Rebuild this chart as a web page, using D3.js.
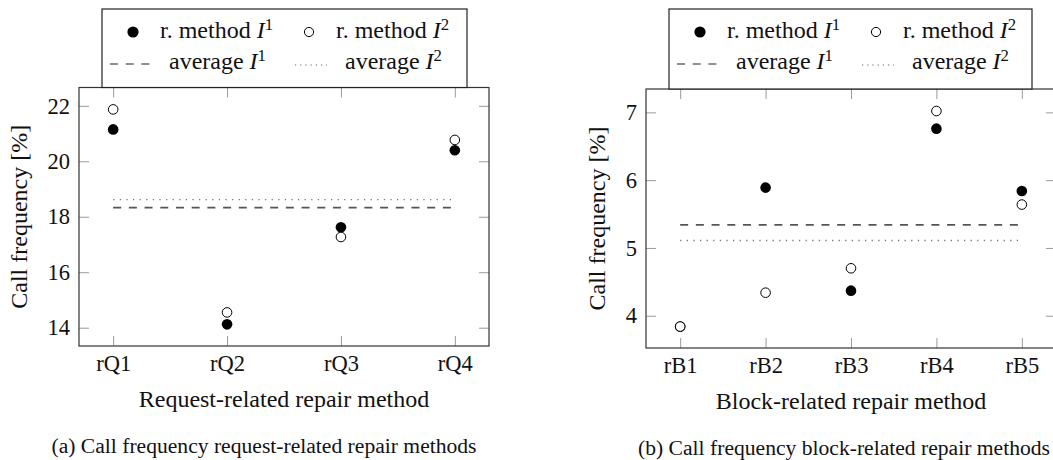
<!DOCTYPE html>
<html>
<head>
<meta charset="utf-8">
<title>Call frequency of repair methods</title>
<script src="https://cdn.jsdelivr.net/npm/d3@7"></script>
<style>
  body { margin: 0; background: #fff; }
  .tick line { stroke: #9a9a9a; stroke-width: 1; }
  .tick text { fill: #111; }
  .domain { display: none; }
</style>
</head>
<body>
<div id="chart"></div>
<script>
var SERIF = "'Liberation Serif', 'Times New Roman', Times, serif";

// (a) request-related repair methods
var catsA = ["rQ1", "rQ2", "rQ3", "rQ4"];
var methodA1 = [21.15, 14.12, 17.62, 20.40];
var methodA2 = [21.87, 14.55, 17.27, 20.77];
var averageA = [18.33, 18.62];
var yTicksA = [14, 16, 18, 20, 22];

// (b) block-related repair methods
var catsB = ["rB1", "rB2", "rB3", "rB4", "rB5"];
var methodB1 = [3.84, 5.89, 4.37, 6.76, 5.84];
var methodB2 = [3.84, 4.34, 4.70, 7.02, 5.64];
var averageB = [5.34, 5.11];
var yTicksB = [4, 5, 6, 7];

var svg = d3.select("#chart").append("svg")
  .attr("width", 1053)
  .attr("height", 460)
  .attr("font-family", SERIF);

function serifTicks(sel) {
  // d3 puts sans-serif on the axis group, put the serif back
  sel.attr("font-family", SERIF).attr("font-size", 22.5);
  sel.selectAll("text").attr("font-family", SERIF);
}

function drawPanel(p) {
  var x = d3.scaleLinear().domain([0.5 + p.pad, p.cats.length + 0.5 - p.pad]).range([p.left, p.right]);
  var y = d3.scaleLinear().domain(p.ydom).range([p.bottom, p.top]);
  var g = svg.append("g");
  var idx = d3.range(1, p.cats.length + 1);

  // inward ticks on all four sides
  g.append("g").attr("transform", "translate(0," + p.bottom + ")")
    .call(d3.axisBottom(x).tickValues(idx)
      .tickFormat(function (d) { return p.cats[d - 1]; })
      .tickSizeInner(-10).tickSizeOuter(0).tickPadding(9))
    .call(serifTicks);
  g.append("g").attr("transform", "translate(0," + p.top + ")")
    .call(d3.axisTop(x).tickValues(idx)
      .tickFormat("").tickSizeInner(-10).tickSizeOuter(0));
  g.append("g").attr("transform", "translate(" + p.left + ",0)")
    .call(d3.axisLeft(y).tickValues(p.yticks).tickFormat(d3.format("d"))
      .tickSizeInner(-10).tickSizeOuter(0).tickPadding(9))
    .call(serifTicks);
  g.append("g").attr("transform", "translate(" + p.right + ",0)")
    .call(d3.axisRight(y).tickValues(p.yticks).tickFormat("")
      .tickSizeInner(-10).tickSizeOuter(0));

  g.append("rect")
    .attr("x", p.left).attr("y", p.top)
    .attr("width", p.right - p.left).attr("height", p.bottom - p.top)
    .attr("fill", "none").attr("stroke", "#333").attr("stroke-width", 1.2);

  // average lines
  var x0 = x(1), x1 = x(p.cats.length);
  g.append("line").attr("x1", x0).attr("x2", x1)
    .attr("y1", y(p.avg[0])).attr("y2", y(p.avg[0]))
    .attr("stroke", "#555").attr("stroke-width", 1.6).attr("stroke-dasharray", "8,7.7");
  g.append("line").attr("x1", x0).attr("x2", x1)
    .attr("y1", y(p.avg[1])).attr("y2", y(p.avg[1]))
    .attr("stroke", "#777").attr("stroke-width", 1.3).attr("stroke-dasharray", "1.3,5.3");

  g.selectAll(".m1").data(p.m1).enter().append("circle")
    .attr("cx", function (d, i) { return x(i + 1); })
    .attr("cy", function (d) { return y(d); })
    .attr("r", 5.3).attr("fill", "#000");
  g.selectAll(".m2").data(p.m2).enter().append("circle")
    .attr("cx", function (d, i) { return x(i + 1); })
    .attr("cy", function (d) { return y(d); })
    .attr("r", 4.8).attr("fill", "#fff").attr("stroke", "#000").attr("stroke-width", 1);

  // axis labels
  g.append("text")
    .attr("x", (p.left + p.right) / 2).attr("y", p.bottom + 61)
    .attr("text-anchor", "middle").attr("font-family", SERIF)
    .attr("font-size", 24).attr("fill", "#111")
    .text(p.xlabel);
  g.append("text")
    .attr("transform", "translate(" + p.ylabelX + "," + (p.top + p.bottom) / 2 + ") rotate(-90)")
    .attr("text-anchor", "middle").attr("font-family", SERIF)
    .attr("font-size", 24).attr("fill", "#111")
    .text("Call frequency [%]");
  g.append("text")
    .attr("x", p.captionX).attr("y", p.bottom + 107)
    .attr("text-anchor", "middle").attr("font-family", SERIF)
    .attr("font-size", 21.6).attr("fill", "#111")
    .text(p.caption);

  // legend
  var lg = g.append("g").attr("transform", "translate(" + p.legendX + ",9)");
  lg.append("rect").attr("x", 0).attr("y", 0).attr("width", p.legendW).attr("height", p.top - 9)
    .attr("fill", "#fff").attr("stroke", "#222").attr("stroke-width", 1.2);

  function label(tx, ty, word, sup) {
    var t = lg.append("text").attr("x", tx).attr("y", ty)
      .attr("font-family", SERIF).attr("font-size", 24).attr("fill", "#111");
    t.append("tspan").text(word + " ");
    t.append("tspan").attr("font-style", "italic").text("I");
    t.append("tspan").attr("font-size", "0.7em").attr("dy", "-0.45em").text(sup);
  }
  lg.append("circle").attr("cx", 31).attr("cy", 23).attr("r", 5.6).attr("fill", "#000");
  label(58, 29, "r. method", "1");
  lg.append("circle").attr("cx", 207).attr("cy", 23).attr("r", 4.6)
    .attr("fill", "#fff").attr("stroke", "#000").attr("stroke-width", 1);
  label(234, 29, "r. method", "2");

  lg.append("line").attr("x1", 8).attr("x2", 48).attr("y1", 55).attr("y2", 55)
    .attr("stroke", "#222").attr("stroke-width", 1.2).attr("stroke-dasharray", "8,7.7");
  label(67, 60, "average", "1");
  lg.append("line").attr("x1", 193).attr("x2", 225).attr("y1", 56).attr("y2", 56)
    .attr("stroke", "#666").attr("stroke-width", 1.2).attr("stroke-dasharray", "1.2,4");
  label(243, 60, "average", "2");
}

drawPanel({
  cats: catsA, m1: methodA1, m2: methodA2, avg: averageA, yticks: yTicksA,
  ydom: [13.34, 22.66], pad: 0.2,
  left: 79, right: 489, top: 87.5, bottom: 346,
  xlabel: "Request-related repair method", ylabelX: 27,
  caption: "(a) Call frequency request-related repair methods", captionX: 264,
  legendX: 102, legendW: 365
});

drawPanel({
  cats: catsB, m1: methodB1, m2: methodB2, avg: averageB, yticks: yTicksB,
  ydom: [3.524, 7.345], pad: 0.1,
  left: 646, right: 1056, top: 89, bottom: 348,
  xlabel: "Block-related repair method", ylabelX: 605,
  caption: "(b) Call frequency block-related repair methods", captionX: 844,
  legendX: 669, legendW: 363
});
</script>
</body>
</html>
